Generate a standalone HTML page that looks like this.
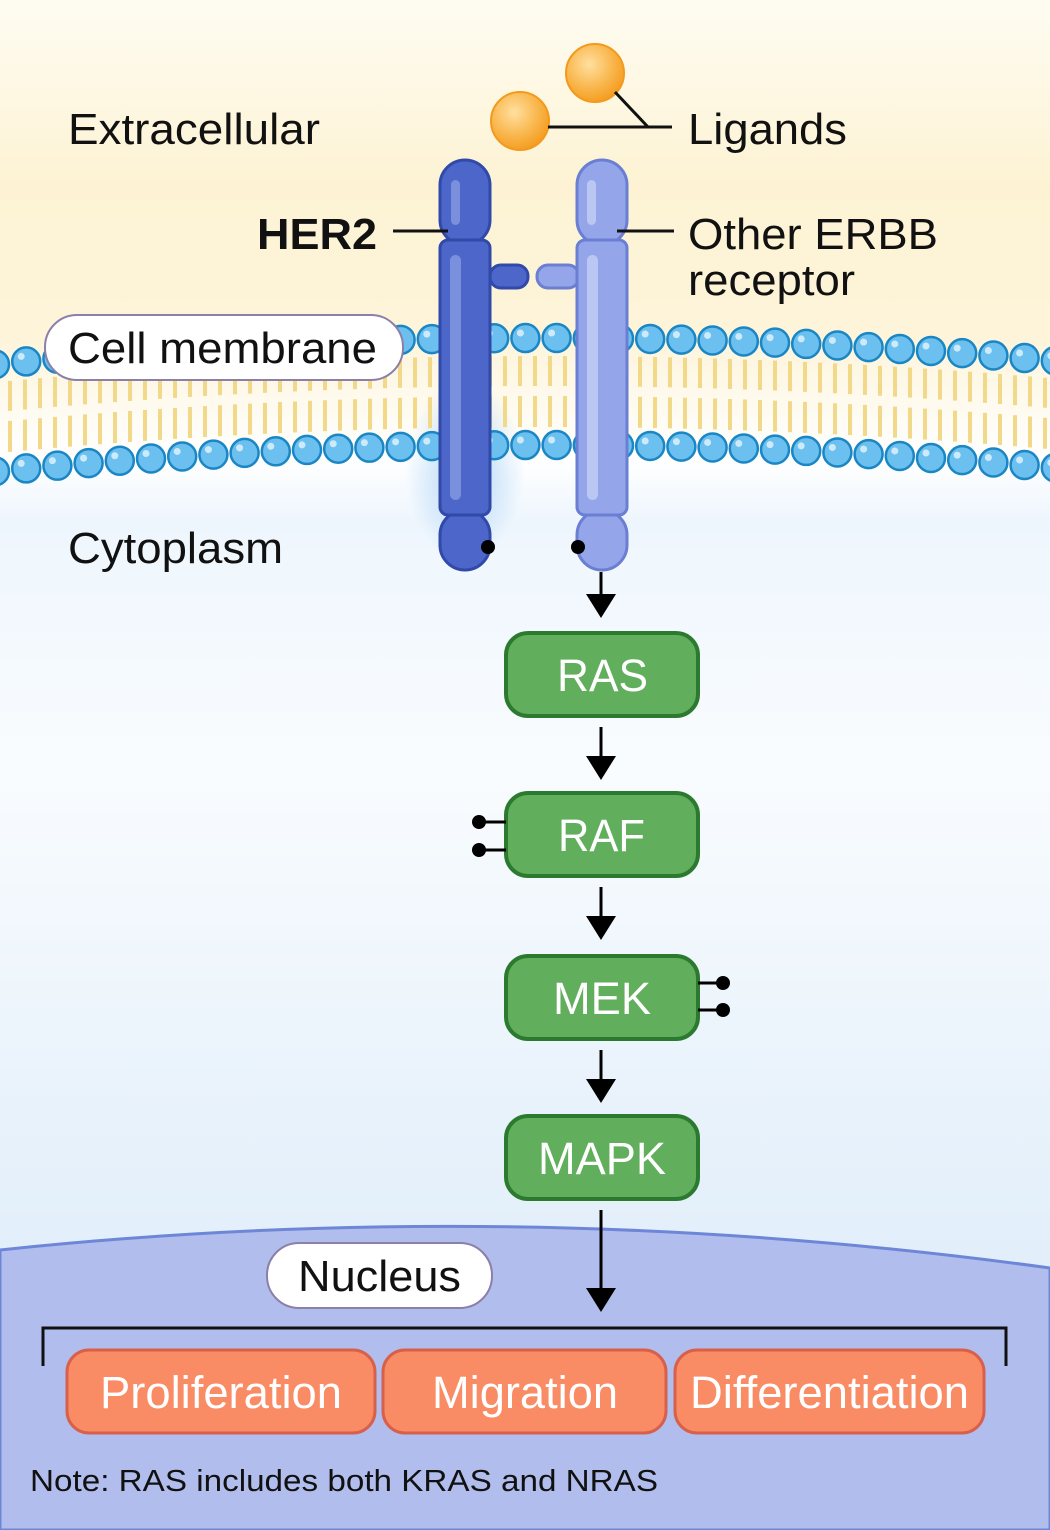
<!DOCTYPE html>
<html><head><meta charset="utf-8"><style>
html,body{margin:0;padding:0;width:1050px;height:1530px;overflow:hidden}
svg{display:block}
text{font-family:"Liberation Sans",sans-serif}
</style></head><body>
<svg id="s" width="1050" height="1530" viewBox="0 0 1050 1530" xmlns="http://www.w3.org/2000/svg">
<defs>
<linearGradient id="bg" x1="0" y1="0" x2="0" y2="1">
<stop offset="0" stop-color="#fefcf2"/>
<stop offset="0.12" stop-color="#fdf3d4"/>
<stop offset="0.22" stop-color="#fdf4da"/>
<stop offset="0.30" stop-color="#ffffff"/>
<stop offset="0.34" stop-color="#eef6fd"/>
<stop offset="0.5" stop-color="#f9fcfe"/>
<stop offset="0.8" stop-color="#e3effa"/>
<stop offset="1" stop-color="#dbe9f8"/>
</linearGradient>
<radialGradient id="lig" cx="0.4" cy="0.35" r="0.7">
<stop offset="0" stop-color="#ffe0a0"/>
<stop offset="0.6" stop-color="#f9b54a"/>
<stop offset="1" stop-color="#f39a1c"/>
</radialGradient>
<radialGradient id="glow" cx="0.5" cy="0.5" r="0.5">
<stop offset="0" stop-color="#7ab8f0" stop-opacity="0.6"/>
<stop offset="1" stop-color="#7ab8f0" stop-opacity="0"/>
</radialGradient>
</defs>
<rect width="1050" height="1530" fill="url(#bg)"/>
<ellipse cx="465" cy="470" rx="60" ry="90" fill="url(#glow)"/>
<g id="mem"></g>
<path d="M0 1250 Q520 1195 1050 1268 L1050 1530 L0 1530 Z" fill="#b1bdec" stroke="#6e86d8" stroke-width="3"/>

<circle cx="595" cy="73" r="29" fill="url(#lig)" stroke="#f39a1c" stroke-width="2"/>
<circle cx="520" cy="121" r="29" fill="url(#lig)" stroke="#f39a1c" stroke-width="2"/>
<path d="M548 127 L672 127 M615 92 L648 127" stroke="#111" stroke-width="3" fill="none"/>

<g stroke="#3149a8" stroke-width="3" fill="#4c66c9">
<rect x="490" y="265" width="38" height="23" rx="11"/>
<rect x="440" y="160" width="50" height="85" rx="25"/>
<rect x="440" y="510" width="50" height="60" rx="25"/>
<rect x="440" y="240" width="50" height="275" rx="8"/>
</g>
<rect x="451" y="180" width="9" height="45" rx="4.5" fill="#8ea2e6" opacity="0.7"/>
<rect x="450" y="255" width="11" height="245" rx="5.5" fill="#8ea2e6" opacity="0.7"/>
<g stroke="#6a7ed2" stroke-width="3" fill="#94a5ea">
<rect x="537" y="265" width="42" height="23" rx="11"/>
<rect x="577" y="160" width="50" height="85" rx="25"/>
<rect x="577" y="510" width="50" height="60" rx="25"/>
<rect x="577" y="240" width="50" height="275" rx="8"/>
</g>
<rect x="587" y="180" width="9" height="45" rx="4.5" fill="#c4cff5" opacity="0.8"/>
<rect x="587" y="255" width="11" height="245" rx="5.5" fill="#c4cff5" opacity="0.8"/>
<circle cx="488" cy="547" r="7" fill="#000"/>
<circle cx="578" cy="547" r="7" fill="#000"/>
<path d="M393 231 L448 231 M617 231 L674 231" stroke="#111" stroke-width="3"/>

<rect x="45" y="315" width="358" height="65" rx="32" fill="#fff" stroke="#8a80a8" stroke-width="2"/>
<text x="68" y="363" font-size="44" fill="#111" textLength="309" lengthAdjust="spacingAndGlyphs">Cell membrane</text>
<rect x="267" y="1243" width="225" height="65" rx="32" fill="#fff" stroke="#8a80a8" stroke-width="2"/>
<text x="298" y="1291" font-size="44" fill="#111" textLength="163" lengthAdjust="spacingAndGlyphs">Nucleus</text>

<text x="68" y="144" font-size="44" fill="#111" textLength="252" lengthAdjust="spacingAndGlyphs">Extracellular</text>
<text x="688" y="144" font-size="44" fill="#111" textLength="159" lengthAdjust="spacingAndGlyphs">Ligands</text>
<text x="257" y="249" font-size="44" font-weight="bold" fill="#111" textLength="120" lengthAdjust="spacingAndGlyphs">HER2</text>
<text x="688" y="249" font-size="44" fill="#111" textLength="250" lengthAdjust="spacingAndGlyphs">Other ERBB</text>
<text x="688" y="295" font-size="44" fill="#111" textLength="167" lengthAdjust="spacingAndGlyphs">receptor</text>
<text x="68" y="563" font-size="44" fill="#111" textLength="215" lengthAdjust="spacingAndGlyphs">Cytoplasm</text>

<g stroke="#000" stroke-width="3">
<line x1="601" y1="572" x2="601" y2="598"/>
<line x1="601" y1="727" x2="601" y2="760"/>
<line x1="601" y1="887" x2="601" y2="920"/>
<line x1="601" y1="1050" x2="601" y2="1083"/>
<line x1="601" y1="1210" x2="601" y2="1292"/>
</g>
<g fill="#000">
<path d="M586 594 L616 594 L601 618 Z"/>
<path d="M586 756 L616 756 L601 780 Z"/>
<path d="M586 916 L616 916 L601 940 Z"/>
<path d="M586 1079 L616 1079 L601 1103 Z"/>
<path d="M586 1288 L616 1288 L601 1312 Z"/>
</g>

<g fill="#61ae5c" stroke="#2b7a2f" stroke-width="4">
<rect x="506" y="633" width="192" height="83" rx="22"/>
<rect x="506" y="793" width="192" height="83" rx="22"/>
<rect x="506" y="956" width="192" height="83" rx="22"/>
<rect x="506" y="1116" width="192" height="83" rx="22"/>
</g>
<g font-size="45" fill="#fff">
<text x="557" y="691" textLength="91" lengthAdjust="spacingAndGlyphs">RAS</text>
<text x="558" y="851" textLength="87" lengthAdjust="spacingAndGlyphs">RAF</text>
<text x="553" y="1014" textLength="98" lengthAdjust="spacingAndGlyphs">MEK</text>
<text x="538" y="1174" textLength="128" lengthAdjust="spacingAndGlyphs">MAPK</text>
</g>
<g stroke="#000" stroke-width="3">
<path d="M480 822 L506 822 M480 850 L506 850 M698 983 L723 983 M698 1010 L723 1010"/>
</g>
<g fill="#000">
<circle cx="479" cy="822" r="7"/><circle cx="479" cy="850" r="7"/>
<circle cx="723" cy="983" r="7"/><circle cx="723" cy="1010" r="7"/>
</g>

<path d="M43 1366 L43 1328 L1006 1328 L1006 1366" stroke="#111" stroke-width="3" fill="none"/>
<g fill="#f98b65" stroke="#d8604b" stroke-width="3">
<rect x="67" y="1350" width="308" height="83" rx="22"/>
<rect x="383" y="1350" width="283" height="83" rx="22"/>
<rect x="675" y="1350" width="309" height="83" rx="22"/>
</g>
<g font-size="45" fill="#fff">
<text x="100" y="1408" textLength="242" lengthAdjust="spacingAndGlyphs">Proliferation</text>
<text x="432" y="1408" textLength="186" lengthAdjust="spacingAndGlyphs">Migration</text>
<text x="690" y="1408" textLength="279" lengthAdjust="spacingAndGlyphs">Differentiation</text>
</g>
<text x="30" y="1491" font-size="31" fill="#111" textLength="628" lengthAdjust="spacingAndGlyphs">Note: RAS includes both KRAS and NRAS</text>
</svg>
<script>
(function(){
var g=document.getElementById('mem'),h='';
function y(x){return 338+8.7e-5*(x-545)*(x-545);}
h+='<path d="M-5 '+(y(-5)+10)+' Q545 '+(338*2-y(-5)+10-338+338-(y(-5)-338))+' 1060 '+(y(1060)+10)+'" fill="none"/>';
for(var x=-5;x<1060;x+=15){
 var yy=y(x);
 h+='<line x1="'+x+'" y1="'+(yy+18)+'" x2="'+x+'" y2="'+(yy+48)+'" stroke="#f2d98a" stroke-width="4"/>';
 h+='<line x1="'+x+'" y1="'+(yy+58)+'" x2="'+x+'" y2="'+(yy+89)+'" stroke="#f2d98a" stroke-width="4"/>';
}
for(var x=-5;x<1065;x+=31.2){
 var yy=y(x);
 [yy,yy+107].forEach(function(c){
  h+='<circle cx="'+x+'" cy="'+c+'" r="14" fill="#6cc0ef" stroke="#1a86c4" stroke-width="2.5"/>';
  h+='<circle cx="'+(x-5)+'" cy="'+(c-5)+'" r="3.5" fill="#cdeafa"/>';
 });
}
g.innerHTML=h;
})();
</script>
</body></html>
